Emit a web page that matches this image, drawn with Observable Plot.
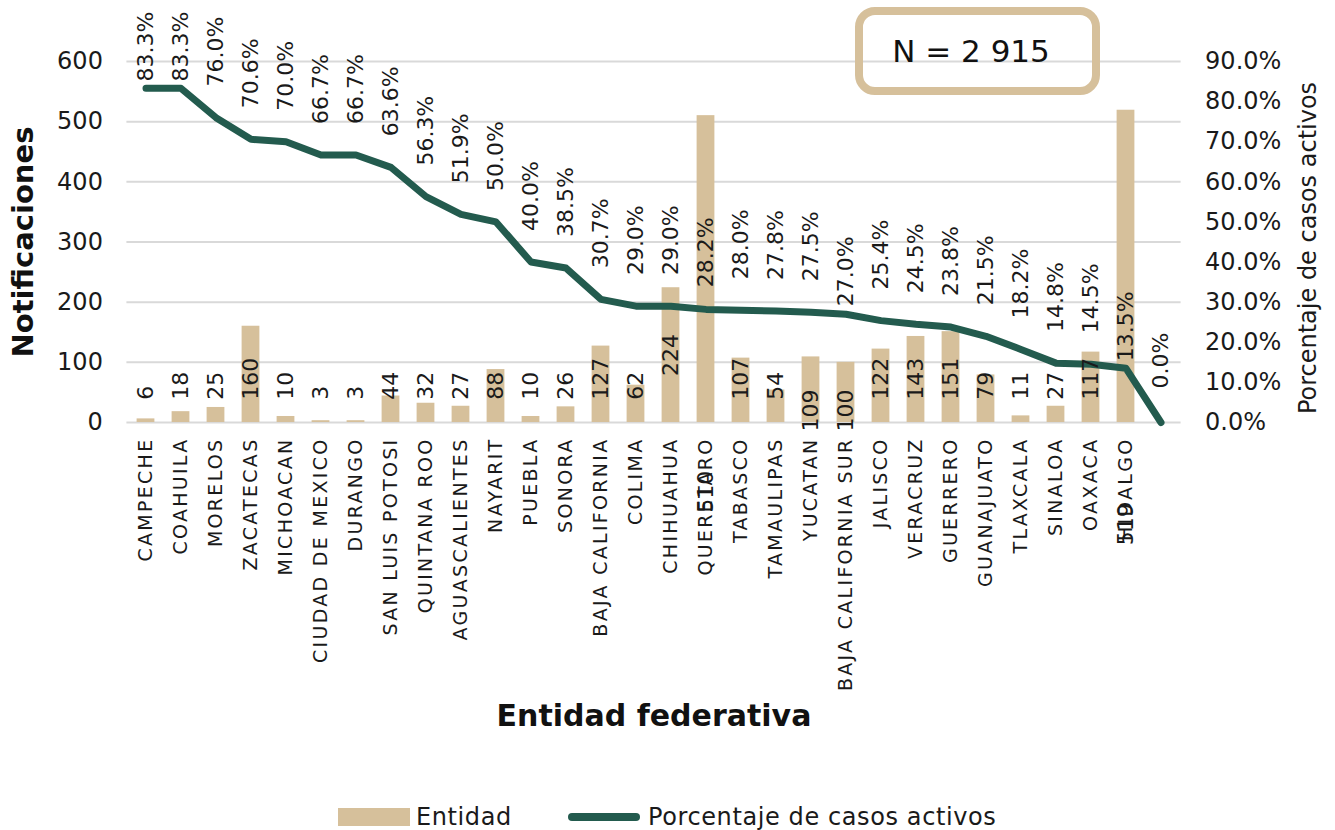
<!DOCTYPE html>
<html>
<head>
<meta charset="utf-8">
<script src="https://cdn.jsdelivr.net/npm/d3@7"></script>
<script src="https://cdn.jsdelivr.net/npm/@observablehq/plot@0.6"></script>
<style>
  html, body { margin: 0; padding: 0; background: #fff; }
  #wrap { position: relative; width: 1335px; height: 830px; overflow: hidden; font-family: "DejaVu Sans", sans-serif; color: #1a1a1a; }
  #chart svg { display: block; }
  svg [aria-label="x-axis tick label"] text { letter-spacing: 2.3px; }
  #nbox { position: absolute; left: 855px; top: 7px; width: 216px; height: 72px; border: 8px solid #D6C09B; border-radius: 20px; display: flex; align-items: center; justify-content: center; font-size: 31px; color: #111; padding-right: 13px; box-sizing: content-box; }
  #legend { position: absolute; left: 0; top: 803px; width: 1335px; height: 28px; font-size: 24px; letter-spacing: 0.6px; }
  .sw { position: absolute; }
  .lt { position: absolute; top: 0; line-height: 28px; }
</style>
</head>
<body>
<div id="wrap">
  <div id="chart"></div>
  <div id="nbox">N = 2 915</div>
  <div id="legend">
    <div class="sw" style="left:338px;top:5px;width:72px;height:18px;background:#D6C09B;"></div>
    <div class="lt" style="left:416px;">Entidad</div>
    <div class="sw" style="left:568px;top:10px;width:72px;height:8px;background:#235B4E;border-radius:4px;"></div>
    <div class="lt" style="left:648px;">Porcentaje de casos activos</div>
  </div>
</div>
<script>
const categorias = ["CAMPECHE","COAHUILA","MORELOS","ZACATECAS","MICHOACAN","CIUDAD DE MEXICO","DURANGO","SAN LUIS POTOSI","QUINTANA ROO","AGUASCALIENTES","NAYARIT","PUEBLA","SONORA","BAJA CALIFORNIA","COLIMA","CHIHUAHUA","QUERETARO","TABASCO","TAMAULIPAS","YUCATAN","BAJA CALIFORNIA SUR","JALISCO","VERACRUZ","GUERRERO","GUANAJUATO","TLAXCALA","SINALOA","OAXACA","HIDALGO",""];
const notificaciones = [6,18,25,160,10,3,3,44,32,27,88,10,26,127,62,224,510,107,54,109,100,122,143,151,79,11,27,117,519,null];
const porcentaje = [83.3,83.3,76.0,70.6,70.0,66.7,66.7,63.6,56.3,51.9,50.0,40.0,38.5,30.7,29.0,29.0,28.2,28.0,27.8,27.5,27.0,25.4,24.5,23.8,21.5,18.2,14.8,14.5,13.5,0.0];
const ticksIzq = [0,100,200,300,400,500,600];
const ticksDer = [0,10,20,30,40,50,60,70,80,90];

// layout
const W = 1335, H = 790, mTop = 61, mBottom = 368, mLeft = 126.4, mRight = 154.4;
const pxPerUnit = (H - mBottom - mTop) / 600;
const pctToUnits = p => p * 600 / 90;

// label placement rules (Excel-like)
const barLabelStart = {"YUCATAN": -15, "BAJA CALIFORNIA SUR": -15, "QUERETARO": -150, "HIDALGO": -204};
const pctLabelOffset = {"BAJA CALIFORNIA SUR": 43, "HIDALGO": 42, "QUERETARO": 57, "": 62};

const data = categorias.map((c, i) => ({cat: c, n: notificaciones[i], pct: porcentaje[i]}));
const bars = data.filter(d => d.n != null);
const barLabelsStart = bars.filter(d => d.cat !== "CHIHUAHUA").map(d => ({...d, ly: barLabelStart[d.cat] ?? 38}));
const barLabelsMid = bars.filter(d => d.cat === "CHIHUAHUA").map(d => ({...d, ly: d.n / 2}));
const maxCenterU = (H - mBottom - 46) / pxPerUnit;
const pctLabels = data.map(d => ({...d, ly: Math.min(pctToUnits(d.pct) + (pctLabelOffset[d.cat] ?? 66) / pxPerUnit, maxCenterU)}));

const ink = "#1a1a1a";
const chart = Plot.plot({
  width: W, height: H,
  marginTop: mTop, marginBottom: mBottom, marginLeft: mLeft, marginRight: mRight,
  style: {fontFamily: "DejaVu Sans, sans-serif", color: ink, background: "transparent"},
  x: {type: "band", domain: categorias, padding: 0},
  y: {domain: [0, 600]},
  marks: [
    Plot.gridY({ticks: ticksIzq, stroke: "#d9d9d9", strokeOpacity: 1, strokeWidth: 2}),
    Plot.barY(bars, {x: "cat", y: "n", fill: "#D6C09B", insetLeft: 8.6, insetRight: 8.6}),
    Plot.line(data, {x: "cat", y: d => pctToUnits(d.pct), stroke: "#235B4E", strokeWidth: 7, strokeLinecap: "round", strokeLinejoin: "round"}),
    Plot.text(barLabelsStart, {x: "cat", y: "ly", text: d => String(d.n), rotate: -90, textAnchor: "start", fontSize: 22, fill: ink}),
    Plot.text(barLabelsMid, {x: "cat", y: "ly", text: d => String(d.n), rotate: -90, textAnchor: "middle", fontSize: 22, fill: ink}),
    Plot.text(pctLabels, {x: "cat", y: "ly", text: d => d.pct.toFixed(1) + "%", rotate: -90, textAnchor: "middle", fontSize: 22, fill: ink}),
    Plot.axisY({anchor: "left", ticks: ticksIzq, tickSize: 0, tickPadding: 24, fontSize: 24, label: null}),
    Plot.axisY({anchor: "right", ticks: ticksDer.map(pctToUnits), tickSize: 0, tickPadding: 24, fontSize: 24, label: null, tickFormat: d => (d * 90 / 600).toFixed(1) + "%"}),
    Plot.axisX({anchor: "bottom", tickSize: 0, tickPadding: 15, tickRotate: -90, fontSize: 19, label: null}),
    Plot.text([0], {frameAnchor: "bottom", dy: 303, text: () => "Entidad federativa", fontSize: 30, fontWeight: "bold", fill: "#111"}),
    Plot.text([0], {frameAnchor: "left", dx: -103, rotate: -90, textAnchor: "middle", text: () => "Notificaciones", fontSize: 29, fontWeight: "bold", fill: "#111"}),
    Plot.text([0], {frameAnchor: "right", dx: 127.5, dy: 6, rotate: -90, textAnchor: "middle", text: () => "Porcentaje de casos activos", fontSize: 24, fill: ink})
  ]
});
document.getElementById("chart").appendChild(chart);
</script>
</body>
</html>
